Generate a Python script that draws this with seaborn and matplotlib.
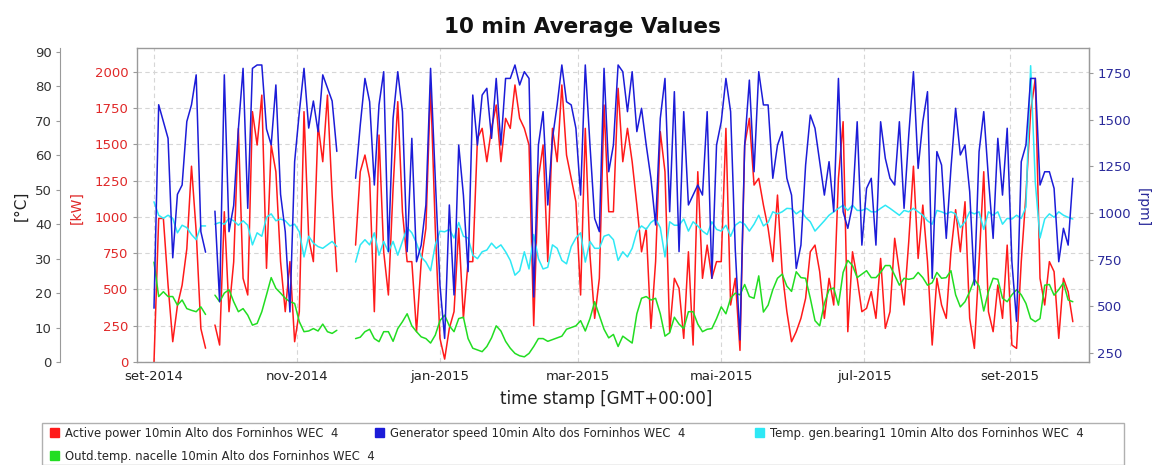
import matplotlib
matplotlib.use("Agg")
import matplotlib.pyplot as plt
from matplotlib.patches import Patch, Rectangle
import numpy as np
import pandas as pd
import seaborn as sns

nan = float("nan")

# Daily-average samples, one every two days starting 1 Sep 2014
start_day = "2014-09-01"
step_days = 2

active_power_kw = [
    0, 990, 990, 530, 140, 390, 530, 780, 1350, 900, 230, 95,
    nan,
    255, 117, 1036, 347, 690, 1610, 577, 462, 1726, 1496, 1840, 646, 1496, 1312,
    692, 347, 692, 140, 347, 1726, 853, 692, 1634, 1381, 1840, 1151, 623,
    nan, nan, nan,
    806, 1312, 1427, 1266, 347, 1565, 760, 462, 1197, 1795, 1036, 692, 692, 209,
    692, 922, 1910, 922, 163, 20, 232, 347, 922, 301, 692, 692, 1542, 1611, 1381,
    1611, 1772, 1381, 1680, 1611, 1910, 1680,
    1611, 1496, 250, 1266, 1496, 692, 1611, 1381, 1910, 1427, 1266, 1105, 462,
    1611, 738, 301, 577, 1772, 1036, 1036, 1887, 1381, 1611, 1381, 1082, 760, 922,
    232, 692, 1588, 1312, 209, 577, 508, 163, 760, 117, 1312, 577,
    806, 577, 692, 692, 1611, 393, 577, 80, 1496, 1680, 1220, 1266, 1082, 922,
    692, 1151, 623, 347, 140, 209, 301, 439, 760, 806, 623, 301, 577, 393, 1266,
    1657, 209, 760, 577, 347, 370, 485, 301, 714, 232,
    347, 853, 623, 393, 830, 1350, 714, 1082, 692, 117, 577, 393, 301, 760, 1050,
    760, 1105, 301, 94, 692, 1312, 347, 209, 531, 301, 806, 117, 94, 692, 1151,
    1726, 1956, 577, 393, 692, 623, 163, 577, 485, 278,
]

generator_speed_rpm = [
    490, 1580, 1490, 1400, 760, 1100, 1150, 1490, 1580, 1740, 900, 790,
    nan,
    1010, 525, 1740, 900, 1040, 1450, 1775, 1025, 1775, 1793, 1793, 1450, 1365,
    1686, 1100, 900, 470, 1275, 1540, 1775, 1455, 1600, 1435, 1740, 1670, 1600, 1330,
    nan, nan, nan,
    1186, 1471, 1721, 1596, 1150, 1580, 1757, 793, 1507, 1757, 1543, 793, 1400,
    739, 828, 1043, 1775, 1186, 614, 328, 1043, 561, 1364, 1096, 686, 1632, 1364,
    1632, 1668, 1400, 1721, 1364, 1721, 1721, 1793, 1686,
    1757, 1721, 550, 1364, 1543, 1043, 1400, 1579, 1793, 1596, 1579, 1454, 1096,
    1793, 1364, 971, 900, 1775, 1221, 1364, 1793, 1757, 1543, 1757, 1436, 1561,
    1364, 1186, 936, 1507, 1721, 1007, 1650, 793, 1543, 1043, 1096, 1150, 1096,
    1543, 650, 1364, 1489, 1721, 1543, 800, 320, 1364, 1712, 1221, 1757, 1579,
    1579, 1186, 1364, 1436, 1186, 1096, 703, 828, 1257, 1525, 1454, 1275, 1096,
    1275, 1007, 1721, 1007, 918, 1043, 1489, 828, 1132, 1186, 828, 1489, 1293,
    1186, 1150, 1489, 1025, 1418, 1757, 1239, 1489, 1650, 650, 1329, 1257, 864,
    1239, 1561, 1311, 1364, 1114, 614, 1329, 1543, 1186, 864, 1400, 1096, 1454,
    739, 420, 1275, 1364, 1721, 1721, 1150, 1221, 1221, 1132, 739, 918, 828, 1186,
]

bearing_temp_c = [
    46.5, 42.6, 41.7, 42.6, 41.7, 37.5, 39.7, 39.0, 37.0, 35.5, 39.5, 39.5,
    nan,
    40.0, 40.5, 40.0, 41.7, 41.0, 39.7, 41.0, 39.7, 34.0, 37.5, 36.5, 42.0, 43.0,
    41.0, 41.5, 41.0, 39.5, 40.0, 37.8, 30.5, 36.5, 34.5, 33.5, 33.0, 34.0, 35.0, 33.5,
    nan, nan, nan,
    29.0, 34.0, 35.5, 34.0, 37.5, 31.0, 35.0, 32.0, 35.0, 31.0, 35.0, 39.0, 37.5,
    34.5, 30.5, 29.0, 26.5, 34.0, 38.0, 37.8, 38.5, 36.0, 40.5, 36.5, 36.0, 31.0,
    30.0, 32.0, 32.5, 34.5, 33.0, 34.0, 32.0, 29.5, 25.2, 26.5,
    32.0, 27.0, 37.0, 30.0, 27.0, 27.5, 34.0, 33.0, 29.5, 28.5, 33.5, 36.0, 37.5,
    29.0, 35.0, 33.0, 33.0, 36.5, 37.0, 35.5, 29.5, 32.0, 30.5, 33.0, 37.8, 39.5,
    38.5, 40.5, 41.5, 39.0, 30.5, 40.7, 39.7, 39.7, 41.5, 38.0, 40.7, 39.5, 38.0,
    37.0, 40.7, 38.5, 38.0, 39.7, 36.5, 39.7, 40.7, 40.0, 38.0, 40.0, 42.6, 39.5,
    40.5, 43.6, 43.0, 43.6, 44.6, 44.5, 43.0, 44.0, 42.0, 40.7, 38.0, 39.5, 41.0,
    42.6, 43.6, 44.6, 45.5, 44.0, 45.5, 44.0, 44.0, 44.6, 43.6, 43.6, 44.6, 45.5,
    44.6, 43.6, 42.6, 44.0, 43.6, 44.6, 43.6, 42.6, 41.0, 40.0, 44.0, 43.6, 43.0,
    43.6, 43.0, 39.0, 40.7, 43.6, 43.0, 43.6, 38.5, 43.6, 42.6, 43.6, 40.0, 41.7,
    41.5, 42.6, 41.7, 45.0, 86.0, 52.0, 36.0, 41.5, 43.0, 42.0, 43.6, 42.6, 42.0, 41.5,
]

nacelle_temp_c = [
    29.0, 19.0, 20.4, 19.0, 19.0, 16.5, 18.0, 15.5, 15.0, 14.6, 16.0, 13.8,
    nan,
    19.4, 17.5, 20.0, 21.0, 17.5, 14.6, 15.5, 13.6, 10.7, 11.2, 14.6, 19.5, 24.5,
    21.4, 20.0, 18.5, 17.5, 17.0, 11.7, 8.8, 9.0, 9.7, 9.0, 11.0, 8.8, 8.3, 9.2,
    nan, nan, nan,
    6.8, 7.2, 8.8, 9.5, 6.8, 5.9, 8.8, 8.8, 6.0, 9.7, 11.7, 14.0, 10.5, 8.8, 7.3,
    6.8, 5.5, 7.8, 12.0, 13.6, 10.5, 8.8, 12.6, 13.0, 6.8, 4.0, 3.5, 3.0, 4.5,
    7.0, 10.5, 9.0, 6.0, 4.0, 2.5, 1.8,
    1.5, 2.5, 4.5, 6.8, 6.8, 6.0, 6.5, 7.0, 7.5, 9.5, 10.0, 10.5, 12.0, 9.0,
    12.6, 17.5, 13.5, 9.5, 7.0, 8.0, 4.5, 7.5, 6.5, 5.5, 14.0, 18.5, 19.0, 18.0,
    18.5, 14.0, 7.5, 8.5, 13.0, 11.0, 9.7, 14.6, 14.6, 11.0, 8.8,
    9.5, 9.7, 12.6, 16.0, 14.0, 18.5, 20.0, 19.5, 22.5, 19.0, 18.5, 25.0, 14.5,
    16.5, 21.0, 24.3, 25.5, 22.0, 20.5, 26.2, 24.5, 24.3, 18.5, 12.0, 10.5, 17.0,
    21.0, 21.5, 16.5, 26.0, 29.5, 28.0, 24.5, 25.5, 26.5, 24.5, 24.5, 26.0, 28.0,
    28.0, 25.2, 22.3, 24.3, 24.0, 24.3, 26.0, 24.5, 22.3, 23.0, 26.0, 24.3, 24.5,
    26.5, 19.5, 16.0, 17.5, 20.4, 24.0, 22.0, 14.8, 20.5, 24.3, 24.0, 18.5, 17.5,
    19.5, 21.0, 19.5, 17.0, 12.6, 11.7, 12.6, 22.3, 22.5, 19.4, 21.0, 23.0, 18.0, 17.5,
]

month_ticks = ["2014-09-01", "2014-11-01", "2015-01-01", "2015-03-01",
               "2015-05-01", "2015-07-01", "2015-09-01"]
month_labels = ["set-2014", "nov-2014", "jan-2015", "mar-2015",
                "mai-2015", "jul-2015", "set-2015"]
kw_ticks = [0, 250, 500, 750, 1000, 1250, 1500, 1750, 2000]
rpm_ticks = [250, 500, 750, 1000, 1250, 1500, 1750]
degc_ticks = [0, 10, 20, 30, 40, 50, 60, 70, 80, 90]

series_labels = [
    "Active power 10min Alto dos Forninhos WEC  4",
    "Generator speed 10min Alto dos Forninhos WEC  4",
    "Temp. gen.bearing1 10min Alto dos Forninhos WEC  4",
    "Outd.temp. nacelle 10min Alto dos Forninhos WEC  4",
]

RED = "#ff1a1a"
BLUE = "#1c1cd8"
CYAN = "#2ee8f5"
GREEN = "#22dd22"
FRAME = "#9a9a9a"

sns.set_style("white")
plt.rcParams["font.family"] = ["DejaVu Sans"]

times = pd.date_range(start_day, periods=len(active_power_kw), freq=f"{step_days}D")


def draw_series(ax, values, color):
    df = pd.DataFrame({"t": times, "v": values})
    df["seg"] = df["v"].isna().cumsum()
    df = df.dropna()
    sns.lineplot(data=df, x="t", y="v", units="seg", estimator=None,
                 color=color, lw=1.1, ax=ax, legend=False, sort=False)


fig = plt.figure(figsize=(11.54, 4.65), dpi=100)
ax = fig.add_axes([137 / 1154, 1 - 362 / 465, 952 / 1154, 314 / 465])
ax_c = ax.twinx()
ax_r = ax.twinx()

draw_series(ax, active_power_kw, RED)
draw_series(ax_c, nacelle_temp_c, GREEN)
draw_series(ax_c, bearing_temp_c, CYAN)
draw_series(ax_r, generator_speed_rpm, BLUE)

t0 = pd.Timestamp(start_day)
ax.set_xlim(t0 - pd.Timedelta(days=7.25), t0 + pd.Timedelta(days=398.9))
ax.set_ylim(0, 2165)
ax_c.set_ylim(0, 91.15)
ax_r.set_ylim(201.8, 1884)

ax.set_xticks(pd.to_datetime(month_ticks))
ax.set_xticklabels(month_labels)
ax.set_yticks(kw_ticks)
ax_c.set_yticks(degc_ticks)
ax_r.set_yticks(rpm_ticks)

for a in (ax, ax_c, ax_r):
    a.set_xlabel("")
    a.set_ylabel("")

ax.set_axisbelow(True)
ax.grid(True, ls=(0, (4, 3)), color="#d6d6d6", lw=0.8)

for s in ax.spines.values():
    s.set_color(FRAME)
    s.set_linewidth(1.0)

ax_c.yaxis.set_ticks_position("left")
for name, s in ax_c.spines.items():
    s.set_visible(name == "left")
ax_c.spines["left"].set_position(("outward", 77 * 0.72))
ax_c.spines["left"].set_color(FRAME)

for name, s in ax_r.spines.items():
    s.set_visible(name == "right")
ax_r.spines["right"].set_color(FRAME)

ax.tick_params(axis="x", length=3, color=FRAME, labelsize=9.5, labelcolor="#222222", pad=3)
ax.tick_params(axis="y", length=3, color=FRAME, labelsize=9.5, labelcolor="#e02828", pad=3)
ax_c.tick_params(axis="y", length=3, color=FRAME, labelsize=9.5, labelcolor="#333333", pad=3)
ax_r.tick_params(axis="y", length=3, color=FRAME, labelsize=9.5, labelcolor="#2a2a9a", pad=3)

fig.text(0.505, 1 - 27 / 465, "10 min Average Values", ha="center", va="center",
         fontsize=15.5, fontweight="bold", color="#111111")
fig.text(606 / 1154, 1 - 399 / 465, "time stamp [GMT+00:00]", ha="center", va="center",
         fontsize=12, color="#222222")
fig.text(21 / 1154, 1 - 206 / 465, "[°C]", rotation=90, ha="center", va="center",
         fontsize=11, color="#222222")
fig.text(77 / 1154, 1 - 208 / 465, "[kW]", rotation=90, ha="center", va="center",
         fontsize=10, color="#e02828")
fig.text(1143 / 1154, 1 - 208 / 465, "[rpm]", rotation=270, ha="center", va="center",
         fontsize=10, color="#2a2a9a")

# legend box along the bottom edge, one legend per column
fig.add_artist(Rectangle((42 / 1154, 0.5 / 465), 1082 / 1154, 42 / 465,
                         transform=fig.transFigure, fill=False,
                         edgecolor="#b0b0b0", lw=1.0))
legend_kw = dict(loc="upper left", frameon=False, fontsize=8.4, handlelength=0.8,
                 handleheight=0.8, handletextpad=0.5, borderaxespad=0, borderpad=0,
                 labelspacing=0.85)
columns = [
    (50, [(RED, series_labels[0]), (GREEN, series_labels[3])]),
    (375, [(BLUE, series_labels[1])]),
    (755, [(CYAN, series_labels[2])]),
]
for x_px, entries in columns:
    fig.legend([Patch(facecolor=c, edgecolor=c) for c, _ in entries],
               [lab for _, lab in entries],
               bbox_to_anchor=(x_px / 1154, 1 - 427 / 465), **legend_kw)

fig.savefig("out.png", dpi=100, facecolor="white")
